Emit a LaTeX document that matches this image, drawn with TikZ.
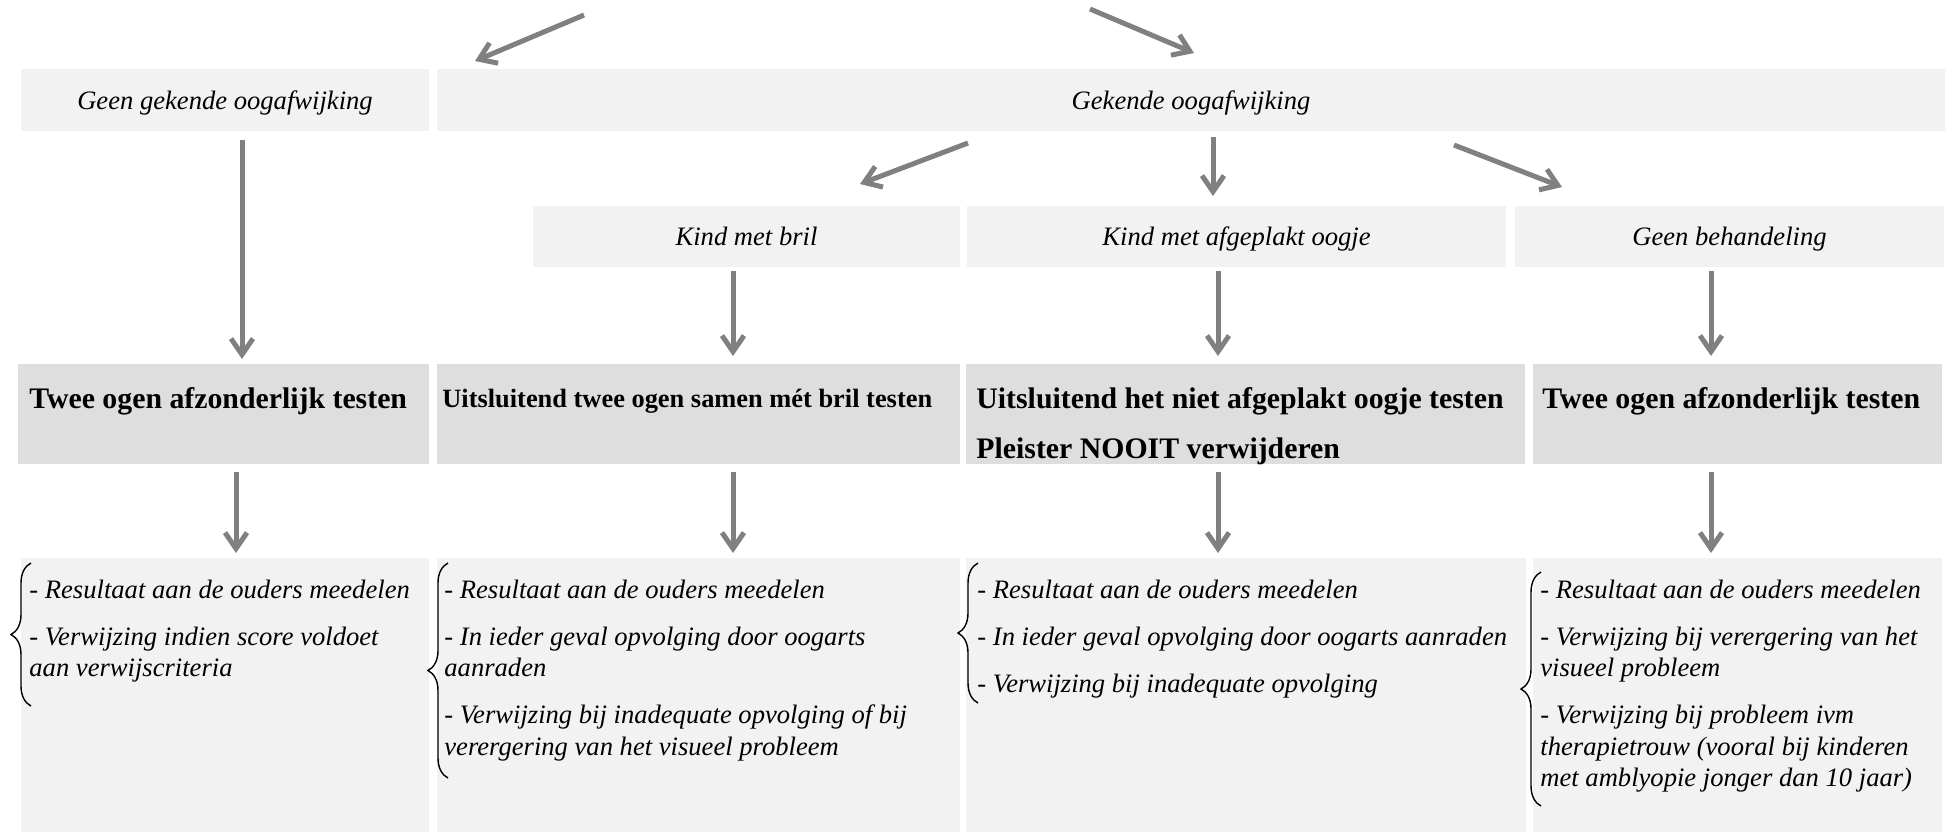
\documentclass[tikz,border=0pt]{standalone}
\usepackage{fontspec}
\setmainfont{Liberation Serif}
\usetikzlibrary{arrows.meta,decorations.pathreplacing}
\definecolor{boxlight}{HTML}{F2F2F2}
\definecolor{boxdark}{HTML}{DEDEDE}
\definecolor{arrowgray}{HTML}{808080}
\begin{document}
\begin{tikzpicture}[x=0.5pt,y=-0.5pt,
  lightbox/.style={fill=boxlight,inner sep=0pt,outer sep=0pt},
  darkbox/.style={fill=boxdark,inner sep=0pt,outer sep=0pt},
  lbl/.style={font=\fontsize{13.3}{16}\selectfont\itshape,text depth=0pt},
  headtxt/.style={font=\fontsize{14.9}{25}\selectfont\bfseries,inner sep=0pt,anchor=base west,align=left},
  headsmall/.style={font=\fontsize{13.2}{16}\selectfont\bfseries,inner sep=0pt,anchor=base west},
  bodytxt/.style={font=\fontsize{13.3}{15.75}\selectfont\itshape,inner sep=0pt,anchor=base west,align=left},
  arr/.style={draw=arrowgray,line width=2.5pt,-{Straight Barb[length=8pt,width=11pt]}},
  brc/.style={draw=black,line width=0.7pt,decorate,decoration={brace,amplitude=10pt}}
]
\useasboundingbox (0,0) rectangle (1957,832);

% row 1
\node[lightbox,lbl,minimum width=204pt,minimum height=31pt] (A) at (225,100) {Geen gekende oogafwijking};
\node[lightbox,lbl,minimum width=754pt,minimum height=31pt] (B) at (1191,100) {Gekende oogafwijking};

% row 2
\node[lightbox,lbl,minimum width=213.5pt,minimum height=30.5pt] (K1) at (746.5,236.5) {Kind met bril};
\node[lightbox,lbl,minimum width=269.5pt,minimum height=30.5pt] (K2) at (1236.5,236.5) {Kind met afgeplakt oogje};
\node[lightbox,lbl,minimum width=214.5pt,minimum height=30.5pt] (K3) at (1729.5,236.5) {Geen behandeling};

% row 3
\node[darkbox,minimum width=205.5pt,minimum height=50pt] (R1) at (223.5,414) {};
\node[darkbox,minimum width=261.5pt,minimum height=50pt] (R2) at (698.5,414) {};
\node[darkbox,minimum width=279.5pt,minimum height=50pt] (R3) at (1245.5,414) {};
\node[darkbox,minimum width=204.5pt,minimum height=50pt] (R4) at (1737.5,414) {};
\node[headtxt] (R1t) at (29,408) {Twee ogen afzonderlijk testen};
\node[headsmall] (R2t) at (442,407) {Uitsluitend twee ogen samen mét bril testen};
% anchor base = baseline of the last line
\node[headtxt] (R3t) at (976,458) {Uitsluitend het niet afgeplakt oogje testen\\Pleister NOOIT verwijderen};
\node[headtxt] (R4t) at (1542,408) {Twee ogen afzonderlijk testen};

% row 4
\node[lightbox,minimum width=204pt,minimum height=137pt] (D1) at (225,695) {};
\node[lightbox,minimum width=261.5pt,minimum height=137pt] (D2) at (698.5,695) {};
\node[lightbox,minimum width=280pt,minimum height=137pt] (D3) at (1246,695) {};
\node[lightbox,minimum width=204.5pt,minimum height=137pt] (D4) at (1737.5,695) {};

% anchor base = baseline of the last line
\node[bodytxt] (D1t) at (29,676.5) {- Resultaat aan de ouders meedelen\\[7.75pt]- Verwijzing indien score voldoet\\aan verwijscriteria};
\node[bodytxt] (D2t) at (444,755) {- Resultaat aan de ouders meedelen\\[7.75pt]- In ieder geval opvolging door oogarts\\aanraden\\[7.75pt]- Verwijzing bij inadequate opvolging of bij\\verergering van het visueel probleem};
\node[bodytxt] (D3t) at (977,692) {- Resultaat aan de ouders meedelen\\[7.75pt]- In ieder geval opvolging door oogarts aanraden\\[7.75pt]- Verwijzing bij inadequate opvolging};
\node[bodytxt] (D4t) at (1540,786.5) {- Resultaat aan de ouders meedelen\\[7.75pt]- Verwijzing bij verergering van het\\visueel probleem\\[7.75pt]- Verwijzing bij probleem ivm\\therapietrouw (vooral bij kinderen\\met amblyopie jonger dan 10 jaar)};

% braces
\coordinate (br1a) at (31,706); \coordinate (br1b) at (31,563);
\coordinate (br2a) at (448,778); \coordinate (br2b) at (448,563);
\coordinate (br3a) at (978,703); \coordinate (br3b) at (978,563);
\coordinate (br4a) at (1541,806); \coordinate (br4b) at (1541,572);
\draw[brc] (br1a) -- (br1b);
\draw[brc] (br2a) -- (br2b);
\draw[brc] (br3a) -- (br3b);
\draw[brc] (br4a) -- (br4b);

% arrows
\coordinate (t1s) at (584,15);   \coordinate (t1e) at (475,61);
\coordinate (t2s) at (1090,9);   \coordinate (t2e) at (1194,53);
\coordinate (b1s) at (968,143);  \coordinate (b1e) at (860,184);
\coordinate (b2s) at (1213,137); \coordinate (b2e) at (1213,196);
\coordinate (b3s) at (1454,145); \coordinate (b3e) at (1562,187);
\coordinate (a1s) at (242,140);  \coordinate (a1e) at (242,359);
\coordinate (k1s) at (733,271);  \coordinate (k1e) at (733,356);
\coordinate (k2s) at (1218,271); \coordinate (k2e) at (1218,356);
\coordinate (k3s) at (1711,271); \coordinate (k3e) at (1711,356);
\coordinate (r1s) at (236,472);  \coordinate (r1e) at (236,553);
\coordinate (r2s) at (733,472);  \coordinate (r2e) at (733,553);
\coordinate (r3s) at (1218,472); \coordinate (r3e) at (1218,553);
\coordinate (r4s) at (1711,472); \coordinate (r4e) at (1711,553);
\foreach \p in {t1,t2,b1,b2,b3,a1,k1,k2,k3,r1,r2,r3,r4}{
  \draw[arr] (\p s) -- (\p e);
}
\end{tikzpicture}
\end{document}
